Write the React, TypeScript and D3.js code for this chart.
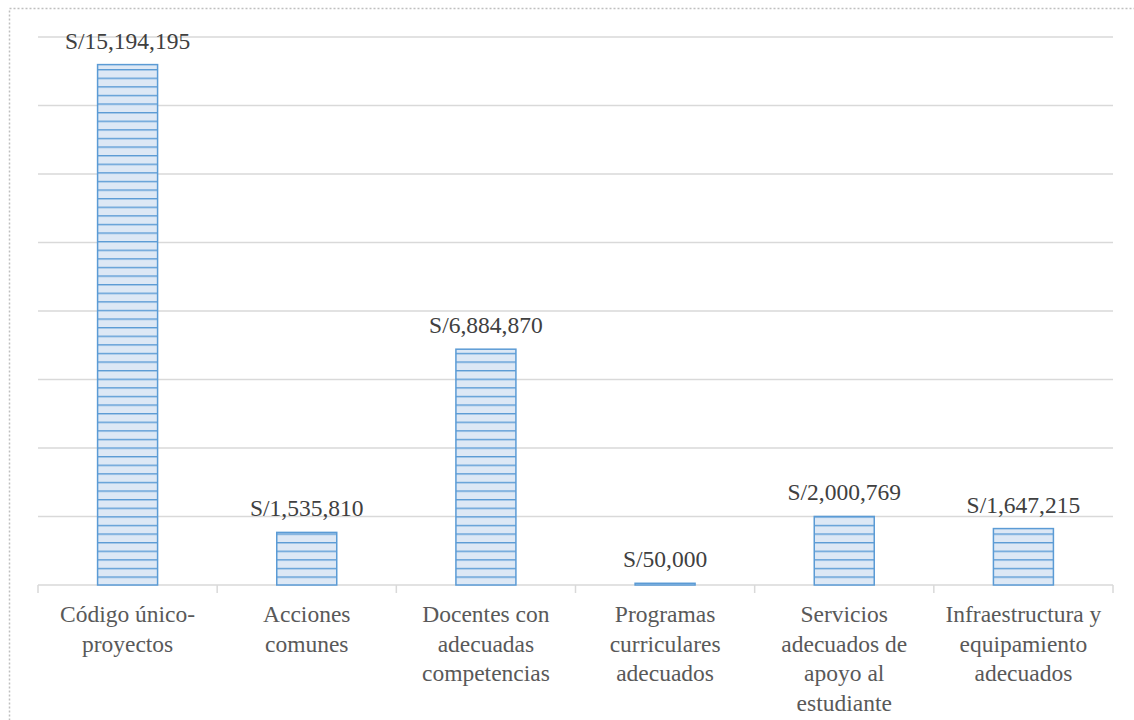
import React from "react";
import * as d3 from "d3";

const categories = [
  ["Código único-", "proyectos"],
  ["Acciones", "comunes"],
  ["Docentes con", "adecuadas", "competencias"],
  ["Programas", "curriculares", "adecuados"],
  ["Servicios", "adecuados de", "apoyo al", "estudiante"],
  ["Infraestructura y", "equipamiento", "adecuados"],
];
const values = [15194195, 1535810, 6884870, 50000, 2000769, 1647215];
const gridTicks = [0, 2e6, 4e6, 6e6, 8e6, 10e6, 12e6, 14e6, 16e6];

const W = 1134, H = 720;
const left = 38, right = 1113, top = 37, bottom = 585;
const FONT = "Liberation Serif, Tinos, DejaVu Serif, serif";

export default function App() {
  const x = d3.scaleBand<number>().domain(d3.range(values.length)).range([left, right]).paddingInner(0).paddingOuter(0);
  const y = d3.scaleLinear().domain([0, 16e6]).range([bottom, top]);
  const barW = 60;
  const fmt = (v: number) => "S/" + d3.format(",")(v);
  return (
    <svg width={W} height={H} style={{ position: "absolute", left: 0, top: 0 }}>
      <defs>
        <pattern id="hstripe" patternUnits="userSpaceOnUse" width={10} height={8.6} y={bottom}>
          <rect width={10} height={8.6} fill="#dde8f5" />
          <rect width={10} height={1.4} y={0} fill="#5b9bd5" />
        </pattern>
      </defs>
      <rect x={0} y={0} width={W} height={H} fill="#fff" />
      <rect x={9.5} y={8.5} width={W + 20} height={H + 20} fill="none" stroke="#bfbfbf" strokeWidth={1.5} strokeDasharray="2 2" />
      {gridTicks.map((t) => (
        <line key={t} x1={left} x2={right} y1={y(t)} y2={y(t)} stroke="#d9d9d9" strokeWidth={1.5} />
      ))}
      {d3.range(values.length + 1).map((i) => {
        const xx = i < values.length ? x(i)! : right;
        return <line key={i} x1={xx} x2={xx} y1={bottom} y2={bottom + 8} stroke="#d9d9d9" strokeWidth={1.5} />;
      })}
      {values.map((v, i) => {
        const cx = x(i)! + x.bandwidth() / 2;
        return (
          <g key={i}>
            <rect x={cx - barW / 2} y={y(v)} width={barW} height={bottom - y(v)} fill="url(#hstripe)" stroke="#5b9bd5" strokeWidth={1.5} />
            <text x={cx} y={y(v) - 16} textAnchor="middle" style={{ fontFamily: FONT }} fontSize={23.5} fill="#404040">{fmt(v)}</text>
            <text textAnchor="middle" style={{ fontFamily: FONT }} fontSize={23.5} fill="#595959">
              {categories[i].map((l, j) => (
                <tspan key={j} x={cx} y={622 + j * 29.5}>{l}</tspan>
              ))}
            </text>
          </g>
        );
      })}
    </svg>
  );
}
